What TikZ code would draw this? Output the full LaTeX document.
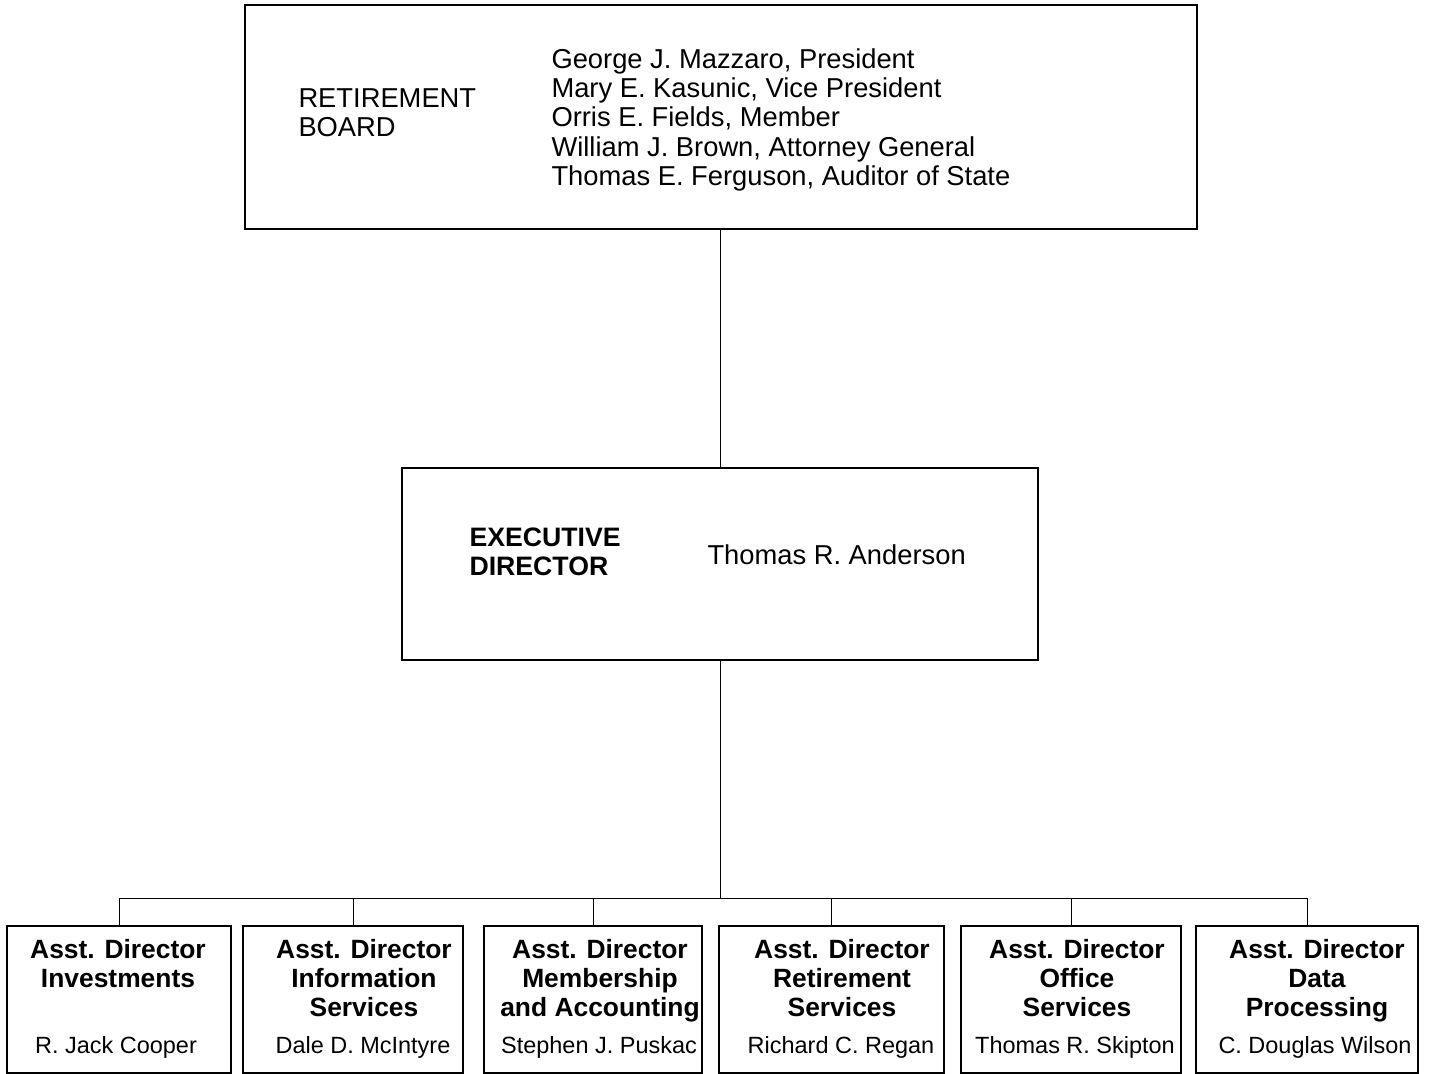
\documentclass[tikz,border=0pt]{standalone}
\usepackage{fontspec}
\setmainfont{Liberation Sans}

\tikzset{every picture/.style={line width=0.75pt}}
\tikzset{
  orgbox/.style={draw, line width=1.1pt, inner sep=0pt},
  asstbox/.style={orgbox, minimum width=#1, minimum height=110.25pt},
  maintext/.style={inner sep=0.75pt, font=\fontsize{20.5}{22}\selectfont, align=left},
  titletext/.style={inner sep=0.75pt, font=\bfseries\fontsize{19.8}{21.75}\selectfont, align=center, anchor=north},
  nametext/.style={inner sep=0.75pt, font=\fontsize{17.6}{20}\selectfont, anchor=base}
}

\begin{document}
\begin{tikzpicture}[x=0.75pt,y=0.75pt,yscale=-1,xscale=1]
\useasboundingbox (0,0) rectangle (1429,1074);

%Shape: Rectangle [board]
\node [orgbox, minimum width=714pt, minimum height=168pt] (board) at (721,117) {};
% Text Node
\node [maintext, anchor=north west] (boardT) at (297,87) {RETIREMENT\\BOARD};
% Text Node
\node [maintext, anchor=north west] (members) at (550,47) {George J. Mazzaro, President\\Mary E. Kasunic, Vice President\\Orris E. Fields, Member\\William J. Brown, Attorney General\\Thomas E. Ferguson, Auditor of State};

%Shape: Rectangle [exec]
\node [orgbox, minimum width=477pt, minimum height=144pt] (exec) at (720,564) {};
% Text Node
\node [maintext, anchor=north west, font=\bfseries\fontsize{20}{22}\selectfont] (execT) at (468,526) {EXECUTIVE\\DIRECTOR};
% Text Node
\node [maintext, anchor=west] (execN) at (706,555) {Thomas R. Anderson};

%Shape: Rectangles [assistant directors]
\node [asstbox=168pt] (invest) at (119,999.5) {};
\node [asstbox=165pt] (info) at (353,999.5) {};
\node [asstbox=163.5pt] (member) at (593,999.5) {};
\node [asstbox=168.75pt] (retire) at (831.5,999.5) {};
\node [asstbox=165pt] (office) at (1071,999.5) {};
\node [asstbox=166.5pt] (dataproc) at (1307,999.5) {};

% Text Nodes
\node [titletext] (investT) at (118,938) {Asst. Director\\Investments};
\node [titletext] (infoT) at (364,938) {Asst. Director\\Information\\Services};
\node [titletext] (memberT) at (600,938) {Asst. Director\\Membership\\and Accounting};
\node [titletext] (retireT) at (842,938) {Asst. Director\\Retirement\\Services};
\node [titletext] (officeT) at (1077,938) {Asst. Director\\Office\\Services};
\node [titletext] (dataprocT) at (1317,938) {Asst. Director\\Data\\Processing};

\node [nametext] (investN) at (116,1053) {R. Jack Cooper};
\node [nametext] (infoN) at (363,1053) {Dale D. McIntyre};
\node [nametext] (memberN) at (599,1053) {Stephen J. Puskac};
\node [nametext] (retireN) at (841,1053) {Richard C. Regan};
\node [nametext] (officeN) at (1075,1053) {Thomas R. Skipton};
\node [nametext] (dataprocN) at (1315,1053) {C. Douglas Wilson};

%Straight Lines [connectors]
\coordinate (bus) at (720,898);
\draw (exec.north) -- (exec.north |- board.south);
\draw (exec.south) -- (bus);
\draw (invest.north |- bus) -- (dataproc.north |- bus);
\draw (invest.north) -- (invest.north |- bus);
\draw (info.north) -- (info.north |- bus);
\draw (member.north) -- (member.north |- bus);
\draw (retire.north) -- (retire.north |- bus);
\draw (office.north) -- (office.north |- bus);
\draw (dataproc.north) -- (dataproc.north |- bus);

\end{tikzpicture}
\end{document}
